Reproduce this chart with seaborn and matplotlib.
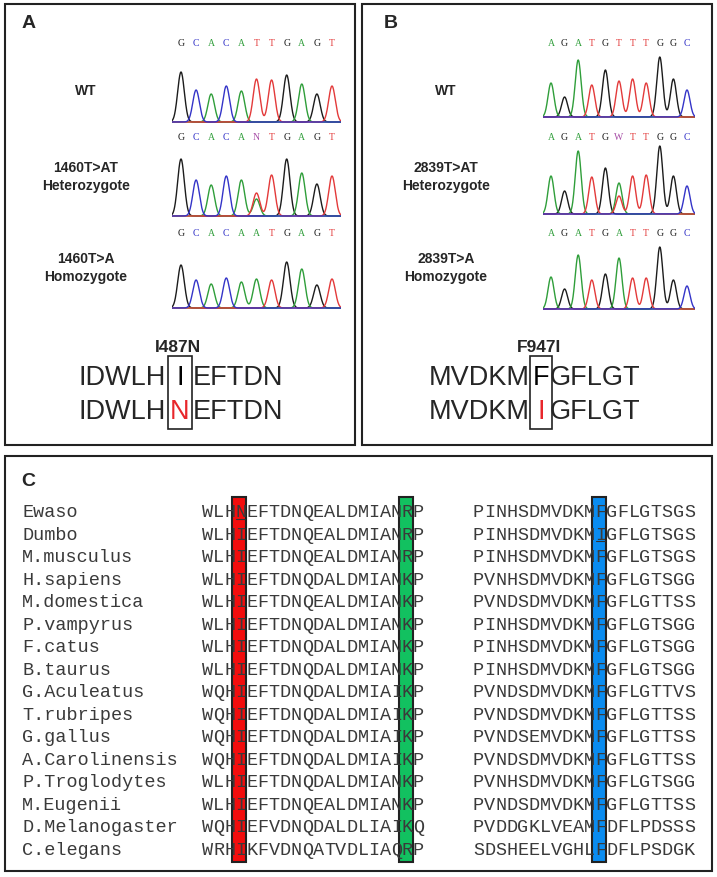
import numpy as np
import pandas as pd
import matplotlib
matplotlib.use("Agg")
import matplotlib.pyplot as plt
import seaborn as sns
from matplotlib.patches import Rectangle

# ---- chromatogram data (base calls + peak heights) ----
calls_a = ["GCACATTGAGT", "GCACANTGAGT", "GCACAATGAGT"]
peaks_a = [
    [50, 32, 28, 36, 31, 43, 42, 47, 38, 28, 36],
    [57, 36, 31, 40, 36, 23, 41, 57, 43, 32, 40],
    [43, 28, 24, 30, 26, 29, 28, 46, 39, 23, 29],
]
calls_b = ["AGATGTTTGGC", "AGATGWTTGGC", "AGATGATTGGC"]
peaks_b = [
    [34, 20, 57, 32, 47, 36, 38, 34, 60, 38, 27],
    [38, 23, 63, 37, 46, 31, 38, 39, 68, 38, 28],
    [32, 20, 54, 29, 35, 51, 31, 31, 62, 29, 23],
]
# ambiguous positions: (row, index) -> {base: height}
mixed_a = {(1, 5): {"T": 23, "A": 17}}
mixed_b = {(1, 5): {"A": 31, "T": 18}}

labels_a = [["WT"], ["1460T>AT", "Heterozygote"], ["1460T>A", "Homozygote"]]
labels_b = [["WT"], ["2839T>AT", "Heterozygote"], ["2839T>A", "Homozygote"]]

# ---- alignment data ----
species = ["Ewaso", "Dumbo", "M.musculus", "H.sapiens", "M.domestica", "P.vampyrus",
           "F.catus", "B.taurus", "G.Aculeatus", "T.rubripes", "G.gallus",
           "A.Carolinensis", "P.Troglodytes", "M.Eugenii", "D.Melanogaster", "C.elegans"]
seg1 = ["WLHNEFTDNQEALDMIANRP", "WLHIEFTDNQEALDMIANRP", "WLHIEFTDNQEALDMIANRP",
        "WLHIEFTDNQDALDMIANKP", "WLHIEFTDNQEALDMIANKP", "WLHIEFTDNQDALDMIANKP",
        "WLHIEFTDNQDALDMIANKP", "WLHIEFTDNQDALDMIANKP", "WQHIEFTDNQDALDMIAIKP",
        "WQHIEFTDNQDALDMIAIKP", "WQHIEFTDNQDALDMIAIKP", "WQHIEFTDNQDALDMIAIKP",
        "WLHIEFTDNQDALDMIANKP", "WLHIEFTDNQEALDMIANKP", "WQHIEFVDNQDALDLIAIKQ",
        "WRHIKFVDNQATVDLIAQRP"]
seg2 = ["PINHSDMVDKMFGFLGTSGS", "PINHSDMVDKMIGFLGTSGS", "PINHSDMVDKMFGFLGTSGS",
        "PVNHSDMVDKMFGFLGTSGG", "PVNDSDMVDKMFGFLGTTSS", "PINHSDMVDKMFGFLGTSGG",
        "PINHSDMVDKMFGFLGTSGG", "PINHSDMVDKMFGFLGTSGG", "PVNDSDMVDKMFGFLGTTVS",
        "PVNDSDMVDKMFGFLGTTSS", "PVNDSEMVDKMFGFLGTTSS", "PVNDSDMVDKMFGFLGTTSS",
        "PVNHSDMVDKMFGFLGTSGG", "PVNDSDMVDKMFGFLGTTSS", "PVDDGKLVEAMFDFLPDSSS",
        "SDSHEELVGHLFDFLPSDGK"]
# highlighted columns: (segment, column, colour)
highlights = [(1, 3, "#f20d0d"), (1, 18, "#12c160"), (2, 11, "#0a8cf0")]
underlined = [(0, 1, 3), (1, 2, 11)]  # (row, segment, column)

base_colors = {"A": "#2f9e3a", "C": "#3434c8", "G": "#1c1c1c", "T": "#e33a3a",
               "N": "#a64ca6", "W": "#a64ca6"}

W, H = 717, 878
sns.set_style("white")
fig = plt.figure(figsize=(W / 100, H / 100), dpi=100)
ax = fig.add_axes([0, 0, 1, 1])
ax.set_xlim(0, W)
ax.set_ylim(H, 0)
ax.axis("off")


def px_axes(x0, y0, x1, y1):
    return fig.add_axes([x0 / W, 1 - y1 / H, (x1 - x0) / W, (y1 - y0) / H])


def trace(calls, heights, mixed, row, x0, sp, baseline, letter_y):
    xs = np.linspace(-0.6, len(calls) - 0.4, 500)
    rows = []
    for b in "GATC":
        sig = np.zeros_like(xs)
        for i, (c, h) in enumerate(zip(calls, heights)):
            parts = mixed.get((row, i), {c: h})
            if b in parts:
                sig += parts[b] * np.exp(-0.5 * ((xs - i) / 0.22) ** 2)
        rows.append(pd.DataFrame({"pos": xs, "signal": sig, "base": b}))
    df = pd.concat(rows, ignore_index=True)
    cax = px_axes(x0 - 0.6 * sp, baseline - 70, x0 + (len(calls) - 0.4) * sp, baseline + 1.5)
    sns.lineplot(data=df, x="pos", y="signal", hue="base", palette=base_colors,
                 estimator=None, legend=False, linewidth=1.0, ax=cax)
    cax.set_xlim(-0.6, len(calls) - 0.4)
    cax.set_ylim(-1.5, 70)
    cax.axis("off")
    for i, c in enumerate(calls):
        ax.text(x0 + i * sp, letter_y, c, color=base_colors[c], fontsize=7,
                family="Liberation Serif", ha="center", va="center")


# ---- panel frames ----
for (x0, y0, x1, y1) in [(5, 5, 355, 446), (362, 5, 712, 446), (5, 457, 712, 872)]:
    ax.add_patch(Rectangle((x0, y0), x1 - x0, y1 - y0, fill=False, lw=1.5, ec="#222222"))
for lab, x, y in [("A", 22, 24), ("B", 384, 24), ("C", 21, 482)]:
    ax.text(x, y, lab, fontsize=14, fontweight="bold", family="Liberation Sans",
            ha="left", va="center")

# ---- chromatograms ----
letter_ys = [43, 138, 234]
base_a = [123, 217, 309]
base_b = [118, 215, 310]
for r in range(3):
    trace(calls_a[r], peaks_a[r], mixed_a, r, 181, 15.1, base_a[r], letter_ys[r])
    trace(calls_b[r], peaks_b[r], mixed_b, r, 551, 13.6, base_b[r], letter_ys[r])

label_ys = [[91], [168, 186], [259, 277]]
for r in range(3):
    for txt, y in zip(labels_a[r], label_ys[r]):
        ax.text(86, y, txt, fontsize=10, fontweight="bold", family="Liberation Sans",
                ha="center", va="center")
    for txt, y in zip(labels_b[r], label_ys[r]):
        ax.text(446, y, txt, fontsize=10, fontweight="bold", family="Liberation Sans",
                ha="center", va="center")

# ---- protein change ----
def mutation(title, left, wt, mut, right, bx0, bx1, lx, rx):
    cx = (bx0 + bx1) / 2
    ax.text(cx - 2, 348, title, fontsize=12.5, fontweight="bold", family="Liberation Sans",
            ha="center", va="center")
    ax.add_patch(Rectangle((bx0, 357), bx1 - bx0, 73, fill=False, lw=1.2, ec="#222222"))
    for y, mid, col in [(378, wt, "black"), (412, mut, "#e8262b")]:
        ax.text(lx, y, left, fontsize=19.5, family="Liberation Sans", ha="right", va="center")
        ax.text(cx, y, mid, fontsize=19.5, family="Liberation Sans", ha="center", va="center",
                color=col)
        ax.text(rx, y, right, fontsize=19.5, family="Liberation Sans", ha="left", va="center")


mutation("I487N", "IDWLH", "I", "N", "EFTDN", 168, 192, 166, 193)
mutation("F947I", "MVDKM", "F", "I", "GFLGT", 530, 552, 530, 550)

# ---- alignment ----
row0, dy = 513, 22.47
cw = 11.1
seg_x = {1: 202, 2: 473}
for seg, col, color in highlights:
    cx = seg_x[seg] + (col + 0.5) * cw - 1.5
    ax.add_patch(Rectangle((cx - 7, 498), 14, 365, fc=color, ec="#222222", lw=1.5, zorder=1))

for r, name in enumerate(species):
    y = row0 + r * dy
    ax.text(22, y, name, fontsize=13.3, family="Liberation Mono", color="#3a3a3a",
            ha="left", va="center", zorder=3)
    for seg, seq in [(1, seg1[r]), (2, seg2[r])]:
        for i, ch in enumerate(seq):
            ax.text(seg_x[seg] + (i + 0.5) * cw, y, ch, fontsize=13.3, family="Liberation Mono",
                    color="#3a3a3a", ha="center", va="center", zorder=3)

for r, seg, col in underlined:
    x = seg_x[seg] + col * cw
    y = row0 + r * dy + 7
    ax.plot([x + 1, x + cw - 1], [y, y], color="#333333", lw=0.8, zorder=3)

fig.savefig("out.png", dpi=100)
